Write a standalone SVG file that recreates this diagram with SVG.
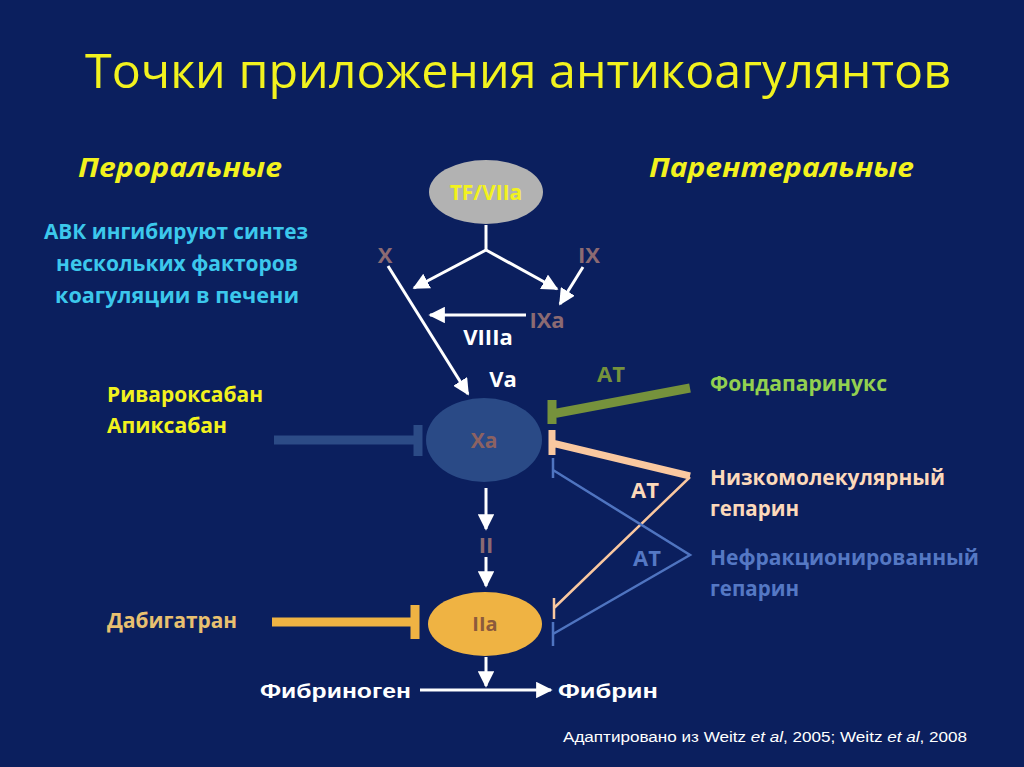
<svg xmlns="http://www.w3.org/2000/svg" width="1024" height="767" viewBox="0 0 1024 767">
<defs>
<style>
.t{font-family:"Open Sans","Liberation Sans",sans-serif;font-weight:bold}
.a{font-family:"Liberation Sans",Arial,sans-serif}
.w{stroke:#fff;stroke-width:3;fill:none}
</style>
<marker id="ah" viewBox="0 0 10 10" refX="9" refY="5" markerWidth="5.5" markerHeight="5.5" orient="auto" markerUnits="strokeWidth">
<path d="M0,0 L10,5 L0,10 z" fill="#fff"/>
</marker>
</defs>
<rect width="1024" height="767" fill="#0b1f5e"/>
<text x="518" y="88" text-anchor="middle" font-family="Open Sans, Liberation Sans, sans-serif" font-size="48" fill="#f2f21e" textLength="866" lengthAdjust="spacingAndGlyphs">Точки приложения антикоагулянтов</text>
<text class="t" x="78" y="177" font-size="27" font-style="italic" fill="#f2f21e" textLength="204" lengthAdjust="spacingAndGlyphs">Пероральные</text>
<text class="t" x="649" y="177" font-size="27" font-style="italic" fill="#f2f21e" textLength="265" lengthAdjust="spacingAndGlyphs">Парентеральные</text>
<g id="avk" class="t" font-size="21" fill="#3cc8ec" text-anchor="middle">
<text x="176" y="239" textLength="264" lengthAdjust="spacingAndGlyphs">АВК ингибируют синтез</text>
<text x="177" y="271" textLength="242" lengthAdjust="spacingAndGlyphs">нескольких факторов</text>
<text x="177" y="303" textLength="244" lengthAdjust="spacingAndGlyphs">коагуляции в печени</text>
</g>
<g id="connectors">
<path class="w" d="M486,225 V250"/>
<path class="w" d="M486,250 L414,288" marker-end="url(#ah)"/>
<path class="w" d="M486,250 L557,289" marker-end="url(#ah)"/>
<path class="w" d="M583,267 L560,304" marker-end="url(#ah)"/>
<path class="w" d="M526,315 H430" marker-end="url(#ah)"/>
<path class="w" d="M388,266 L468,394" marker-end="url(#ah)"/>
<path class="w" d="M486,488 V529" marker-end="url(#ah)"/>
<path class="w" d="M486,557 V586" marker-end="url(#ah)"/>
<path class="w" d="M486,657 V686" marker-end="url(#ah)"/>
<path class="w" d="M420,690 H551" marker-end="url(#ah)"/>
<path d="M274,440 H418 M418,425 V456" stroke="#2c4b86" stroke-width="9" fill="none"/>
<path d="M272,622 H415 M415,605 V639" stroke="#efb343" stroke-width="9" fill="none"/>
<path d="M690,388 L552,414 M552,400 V424" stroke="#76923c" stroke-width="9" fill="none"/>
<path d="M690,476 L552,443 M552,430 V455" stroke="#fac8a0" stroke-width="7" fill="none"/>
<path d="M690,477 L554,608 M554,598 V619" stroke="#fac8a0" stroke-width="2.5" fill="none"/>
<path d="M553,470 L690,555 L553,634 M553,458 V478 M553,622 V646" stroke="#4f74c0" stroke-width="2.5" fill="none"/>
</g>
<g id="tf">
<ellipse cx="486" cy="192" rx="57" ry="32" fill="#b2b2b2"/>
<text class="t" x="486" y="200" font-size="21" fill="#f2f21e" text-anchor="middle">TF/VIIa</text>
</g>
<g id="factors" class="t" font-size="22" text-anchor="middle">
<text x="385" y="263" fill="#8c6a72">X</text>
<text x="589" y="263" fill="#8c6a72">IX</text>
<text x="547" y="328" fill="#8c6a72">IXa</text>
<text x="488" y="345" fill="#fff">VIIIa</text>
<text x="503" y="387" fill="#fff">Va</text>
<text x="486" y="553" fill="#8c6a72">II</text>
</g>
<g id="xa">
<ellipse cx="484" cy="440" rx="58" ry="42" fill="#2a4a86"/>
<text class="t" x="484" y="448" font-size="21" fill="#8c6262" text-anchor="middle">Xa</text>
</g>
<g id="iia">
<ellipse cx="485" cy="624" rx="57" ry="32" fill="#efb343"/>
<text class="t" x="485" y="631" font-size="20" fill="#8c5a3c" text-anchor="middle">IIa</text>
</g>
<g id="drugs-left" class="t" font-size="21">
<text x="107" y="402" fill="#f2f21e" textLength="156" lengthAdjust="spacingAndGlyphs">Ривароксабан</text>
<text x="107" y="433" fill="#f2f21e" textLength="120" lengthAdjust="spacingAndGlyphs">Апиксабан</text>
<text x="107" y="628" fill="#e8c070" textLength="130" lengthAdjust="spacingAndGlyphs">Дабигатран</text>
</g>
<g id="drugs-right" class="t" font-size="21">
<text x="597" y="382" font-size="22" fill="#76923c">AT</text>
<text x="710" y="391" fill="#92d050" textLength="177" lengthAdjust="spacingAndGlyphs">Фондапаринукс</text>
<text x="631" y="498" font-size="22" fill="#fcd9bb">AT</text>
<text x="710" y="485" fill="#fcd9bb" textLength="235" lengthAdjust="spacingAndGlyphs">Низкомолекулярный</text>
<text x="710" y="516" fill="#fcd9bb" textLength="89" lengthAdjust="spacingAndGlyphs">гепарин</text>
<text x="633" y="566" font-size="22" fill="#5578c4">AT</text>
<text x="710" y="565" fill="#5578c4" textLength="269" lengthAdjust="spacingAndGlyphs">Нефракционированный</text>
<text x="710" y="596" fill="#5578c4" textLength="89" lengthAdjust="spacingAndGlyphs">гепарин</text>
</g>
<g id="fibrin" font-family="Liberation Sans, Arial, sans-serif" font-weight="bold" font-size="21" fill="#fff">
<text x="260" y="698" textLength="151" lengthAdjust="spacingAndGlyphs">Фибриноген</text>
<text x="558" y="698" textLength="100" lengthAdjust="spacingAndGlyphs">Фибрин</text>
</g>
<text class="a" x="563" y="742" font-size="14" fill="#fff" textLength="404" lengthAdjust="spacingAndGlyphs">Адаптировано из Weitz <tspan font-style="italic">et al</tspan>, 2005; Weitz <tspan font-style="italic">et al</tspan>, 2008</text>
</svg>
